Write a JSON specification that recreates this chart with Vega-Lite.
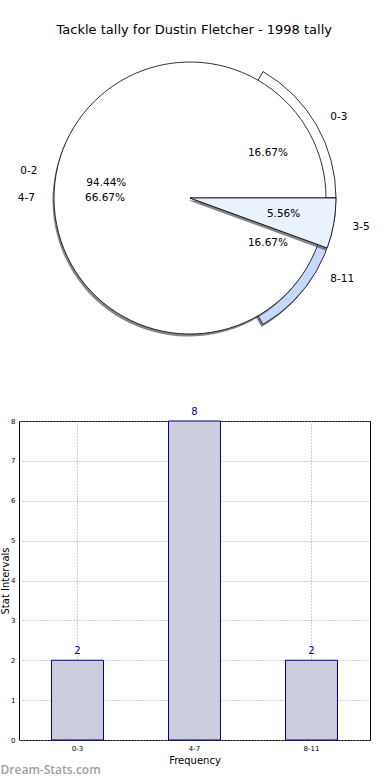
{
  "$schema": "https://vega.github.io/schema/vega-lite/v6.json",
  "padding": {"top": 24, "left": 0, "right": 0, "bottom": 0},
  "autosize": {"type": "pad"},
  "config": {"font": "DejaVu Sans", "view": {"stroke": null}},
  "title": {"text": "Tackle tally for Dustin Fletcher - 1998 tally", "fontSize": 13, "fontWeight": "normal", "color": "#000", "anchor": "middle", "offset": 11, "dx": 9},
  "datasets": {
    "pies": [
      {"pie": "A", "label": "0-2", "n": 17, "idx": 0, "pct": "94.44%"},
      {"pie": "A", "label": "3-5", "n": 1, "idx": 1, "pct": "5.56%"},
      {"pie": "B", "label": "0-3", "n": 2, "idx": 0, "pct": "16.67%"},
      {"pie": "B", "label": "4-7", "n": 8, "idx": 1, "pct": "66.67%"},
      {"pie": "B", "label": "8-11", "n": 2, "idx": 2, "pct": "16.67%"}
    ]
  },
  "spacing": 73,
  "bounds": "flush",
  "vconcat": [
    {
      "width": 342,
      "height": 300,
      "data": {"name": "pies"},
      "layer": [
        {
          "transform": [{"filter": "datum.pie == 'B'"}],
          "mark": {"type": "arc", "radius": 146, "fill": "#444444", "xOffset": -1.5, "yOffset": 2.5, "strokeWidth": 0},
          "encoding": {
            "theta": {"field": "n", "type": "quantitative", "stack": "normalize", "scale": {"domain": [0, 1], "range": [1.5708, -4.7124]}},
            "order": {"field": "idx", "type": "quantitative"},
            "opacity": {"condition": {"test": "datum.label == '4-7'", "value": 0}, "value": 0.65}
          }
        },
        {
          "transform": [{"filter": "datum.pie == 'B'"}],
          "mark": {"type": "arc", "radius": 146, "stroke": "#000", "strokeWidth": 0.8},
          "encoding": {
            "theta": {"field": "n", "type": "quantitative", "stack": "normalize", "scale": {"domain": [0, 1], "range": [1.5708, -4.7124]}},
            "order": {"field": "idx", "type": "quantitative"},
            "color": {"field": "label", "type": "nominal", "legend": null, "scale": {"domain": ["0-2", "3-5", "0-3", "4-7", "8-11"], "range": ["#ffffff", "#eaf2fe", "#ffffff", "#ffffff", "#c6d9fa"]}},
            "opacity": {"condition": {"test": "datum.label == '4-7'", "value": 0}, "value": 1}
          }
        },
        {
          "transform": [{"filter": "datum.pie == 'A'"}],
          "mark": {"type": "arc", "radius": 136, "fill": "#444444", "xOffset": -1.5, "yOffset": 2.5, "strokeWidth": 0},
          "encoding": {
            "theta": {"field": "n", "type": "quantitative", "stack": "normalize", "scale": {"domain": [0, 1], "range": [1.5708, -4.7124]}},
            "order": {"field": "idx", "type": "quantitative"},
            "opacity": {"condition": {"test": "datum.label == '3-5'", "value": 0}, "value": 0.65}
          }
        },
        {
          "transform": [{"filter": "datum.pie == 'A'"}],
          "mark": {"type": "arc", "radius": 136, "stroke": "#000", "strokeWidth": 0.8},
          "encoding": {
            "theta": {"field": "n", "type": "quantitative", "stack": "normalize", "scale": {"domain": [0, 1], "range": [1.5708, -4.7124]}},
            "order": {"field": "idx", "type": "quantitative"},
            "color": {"field": "label", "type": "nominal", "legend": null},
            "opacity": {"condition": {"test": "datum.label == '3-5'", "value": 0}, "value": 1}
          }
        },
        {
          "transform": [{"filter": "datum.pie == 'A'"}],
          "mark": {"type": "arc", "radius": 146, "fill": "#444444", "xOffset": -1.5, "yOffset": 2.5, "strokeWidth": 0},
          "encoding": {
            "theta": {"field": "n", "type": "quantitative", "stack": "normalize", "scale": {"domain": [0, 1], "range": [1.5708, -4.7124]}},
            "order": {"field": "idx", "type": "quantitative"},
            "opacity": {"condition": {"test": "datum.label == '0-2'", "value": 0}, "value": 0.65}
          }
        },
        {
          "transform": [{"filter": "datum.pie == 'A'"}],
          "mark": {"type": "arc", "radius": 146, "stroke": "#000", "strokeWidth": 0.8},
          "encoding": {
            "theta": {"field": "n", "type": "quantitative", "stack": "normalize", "scale": {"domain": [0, 1], "range": [1.5708, -4.7124]}},
            "order": {"field": "idx", "type": "quantitative"},
            "color": {"field": "label", "type": "nominal", "legend": null},
            "opacity": {"condition": {"test": "datum.label == '0-2'", "value": 0}, "value": 1}
          }
        },
        {
          "transform": [{"filter": "datum.pie == 'A'"}],
          "mark": {"type": "text", "radius": 155, "align": "right", "baseline": "middle", "fontSize": 10.5, "color": "#000"},
          "encoding": {
            "theta": {"field": "n", "type": "quantitative", "stack": "normalize", "scale": {"domain": [0, 1], "range": [1.5708, -4.7124]}},
            "order": {"field": "idx", "type": "quantitative"},
            "text": {"condition": {"test": "datum.label == '0-2'", "field": "label"}, "value": ""}
          }
        },
        {
          "transform": [{"filter": "datum.pie == 'A'"}],
          "mark": {"type": "text", "radius": 165, "align": "left", "baseline": "middle", "fontSize": 10.5, "color": "#000"},
          "encoding": {
            "theta": {"field": "n", "type": "quantitative", "stack": "normalize", "scale": {"domain": [0, 1], "range": [1.5708, -4.7124]}},
            "order": {"field": "idx", "type": "quantitative"},
            "text": {"condition": {"test": "datum.label == '3-5'", "field": "label"}, "value": ""}
          }
        },
        {
          "transform": [{"filter": "datum.pie == 'B'"}],
          "mark": {"type": "text", "radius": 155, "align": "right", "baseline": "middle", "fontSize": 10.5, "color": "#000"},
          "encoding": {
            "theta": {"field": "n", "type": "quantitative", "stack": "normalize", "scale": {"domain": [0, 1], "range": [1.5708, -4.7124]}},
            "order": {"field": "idx", "type": "quantitative"},
            "text": {"condition": {"test": "datum.label == '4-7'", "field": "label"}, "value": ""}
          }
        },
        {
          "transform": [{"filter": "datum.pie == 'B'"}],
          "mark": {"type": "text", "radius": 162, "align": "left", "baseline": "middle", "fontSize": 10.5, "color": "#000"},
          "encoding": {
            "theta": {"field": "n", "type": "quantitative", "stack": "normalize", "scale": {"domain": [0, 1], "range": [1.5708, -4.7124]}},
            "order": {"field": "idx", "type": "quantitative"},
            "text": {"condition": {"test": "datum.label != '4-7'", "field": "label"}, "value": ""}
          }
        },
        {
          "transform": [{"filter": "datum.pie == 'A'"}],
          "mark": {"type": "text", "radius": 85, "align": "center", "baseline": "middle", "fontSize": 10.5, "color": "#000"},
          "encoding": {
            "theta": {"field": "n", "type": "quantitative", "stack": "normalize", "scale": {"domain": [0, 1], "range": [1.5708, -4.7124]}},
            "order": {"field": "idx", "type": "quantitative"},
            "text": {"condition": {"test": "datum.label == '0-2'", "field": "pct"}, "value": ""}
          }
        },
        {
          "transform": [{"filter": "datum.pie == 'A'"}],
          "mark": {"type": "text", "radius": 95, "align": "center", "baseline": "middle", "fontSize": 10.5, "color": "#000"},
          "encoding": {
            "theta": {"field": "n", "type": "quantitative", "stack": "normalize", "scale": {"domain": [0, 1], "range": [1.5708, -4.7124]}},
            "order": {"field": "idx", "type": "quantitative"},
            "text": {"condition": {"test": "datum.label == '3-5'", "field": "pct"}, "value": ""}
          }
        },
        {
          "transform": [{"filter": "datum.pie == 'B'"}],
          "mark": {"type": "text", "radius": 85, "align": "center", "baseline": "middle", "fontSize": 10.5, "color": "#000"},
          "encoding": {
            "theta": {"field": "n", "type": "quantitative", "stack": "normalize", "scale": {"domain": [0, 1], "range": [1.5708, -4.7124]}},
            "order": {"field": "idx", "type": "quantitative"},
            "text": {"condition": {"test": "datum.label == '4-7'", "field": "pct"}, "value": ""}
          }
        },
        {
          "transform": [{"filter": "datum.pie == 'B'"}],
          "mark": {"type": "text", "radius": 90, "align": "center", "baseline": "middle", "fontSize": 10.5, "color": "#000"},
          "encoding": {
            "theta": {"field": "n", "type": "quantitative", "stack": "normalize", "scale": {"domain": [0, 1], "range": [1.5708, -4.7124]}},
            "order": {"field": "idx", "type": "quantitative"},
            "text": {"condition": {"test": "datum.label != '4-7'", "field": "pct"}, "value": ""}
          }
        }
      ]
    },
    {
      "width": 351,
      "height": 319,
      "data": {"name": "pies"},
      "transform": [{"filter": "datum.pie == 'B'"}],
      "view": {"stroke": "#000", "strokeWidth": 1},
      "title": {"text": "Dream-Stats.com", "orient": "bottom", "anchor": "start", "frame": "bounds", "font": "Open Sans", "fontSize": 12, "fontWeight": 600, "color": "#a0a0a0", "offset": 0, "dy": 0},
      "encoding": {
        "x": {
          "field": "label", "type": "nominal", "sort": ["0-3", "4-7", "8-11"],
          "scale": {"paddingInner": 0.556, "paddingOuter": 0.278},
          "axis": {"title": "Frequency", "labelAngle": 0, "labelFontSize": 7, "titleFontSize": 10, "titleFontWeight": "normal", "grid": true, "gridDash": [1, 2], "gridColor": "#a0a0a0", "gridOpacity": 1, "bandPosition": 0.5, "domain": false, "ticks": false, "labelPadding": 4, "titlePadding": 4, "labelColor": "#000", "titleColor": "#000"}
        },
        "y": {
          "field": "n", "type": "quantitative", "scale": {"domain": [0, 8]},
          "axis": {"title": "Stat Intervals", "values": [0, 1, 2, 3, 4, 5, 6, 7, 8], "labelFontSize": 7, "titleFontSize": 10, "titleFontWeight": "normal", "grid": true, "gridDash": [1, 2], "gridColor": "#a0a0a0", "gridOpacity": 1, "domain": false, "ticks": false, "labelPadding": 4, "titlePadding": 0, "labelColor": "#000", "titleColor": "#000"}
        }
      },
      "layer": [
        {"mark": {"type": "bar", "fill": "#ccccdf", "stroke": "#000080", "strokeWidth": 1}},
        {"mark": {"type": "text", "dy": -4, "baseline": "bottom", "color": "#000080", "fontSize": 10}, "encoding": {"text": {"field": "n", "type": "quantitative"}}}
      ]
    }
  ]
}
